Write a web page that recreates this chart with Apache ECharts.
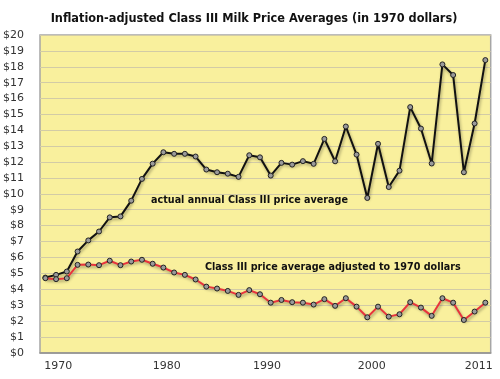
<!DOCTYPE html>
<html>
<head>
<meta charset="utf-8">
<script src="https://cdn.jsdelivr.net/npm/echarts@6/dist/echarts.min.js"></script>
<style>html,body{margin:0;padding:0;background:#fff}#c{width:500px;height:379px}</style>
</head>
<body>
<div id="c"></div>
<script>
var years = ['1970','1971','1972','1973','1974','1975','1976','1977','1978','1979','1980','1981','1982','1983','1984','1985','1986','1987','1988','1989','1990','1991','1992','1993','1994','1995','1996','1997','1998','1999','2000','2001','2002','2003','2004','2005','2006','2007','2008','2009','2010','2011'];
var shownYears = ['1970','1980','1990','2000','2011'];
var actualPrice = [4.73,4.90,5.11,6.37,7.07,7.63,8.52,8.58,9.57,10.94,11.90,12.62,12.52,12.52,12.35,11.53,11.36,11.27,11.07,12.43,12.30,11.15,11.95,11.84,12.06,11.89,13.46,12.05,14.24,12.47,9.74,13.15,10.43,11.46,15.46,14.11,11.91,18.15,17.48,11.36,14.43,18.42];
var adjustedPrice = [4.69,4.63,4.69,5.53,5.55,5.51,5.79,5.51,5.74,5.85,5.60,5.36,5.05,4.90,4.61,4.16,4.04,3.89,3.64,3.94,3.68,3.15,3.32,3.18,3.15,3.03,3.37,2.95,3.43,2.90,2.23,2.90,2.27,2.42,3.18,2.84,2.32,3.43,3.15,2.06,2.59,3.15];

var labelShift = {'1970': 26, '1980': 28, '1990': 14, '2000': 9, '2011': -13};
var rich = {};
shownYears.forEach(function (y) {
  var s = labelShift[y];
  rich['y' + y] = {
    fontFamily: 'DejaVu Sans', fontSize: 11, color: '#333',
    padding: s >= 0 ? [0, 0, 0, s] : [0, -s, 0, 0]
  };
});

var chart = echarts.init(document.getElementById('c'), null, {renderer: 'canvas'});
var shadow = {shadowColor: 'rgba(0,0,0,0.35)', shadowBlur: 3, shadowOffsetX: 1, shadowOffsetY: 2};
chart.setOption({
  animation: false,
  backgroundColor: '#fff',
  title: {
    text: 'Inflation-adjusted Class III Milk Price Averages (in 1970 dollars)',
    left: 249, textAlign: 'center', top: 7,
    textStyle: {fontFamily: 'DejaVu Sans Condensed, DejaVu Sans', fontWeight: 'bold', fontSize: 12.6, color: '#111'}
  },
  grid: {
    left: 39.5, right: 9.3, top: 35, bottom: 26.3,
    show: true, backgroundColor: '#F9F09D', borderColor: '#A6A6A6', borderWidth: 1.5
  },
  xAxis: {
    type: 'category', data: years, boundaryGap: true,
    axisLine: {show: true, lineStyle: {color: '#8C8C8C', width: 1.5}},
    axisTick: {show: false},
    axisLabel: {
      margin: 8,
      interval: function (i, v) { return shownYears.indexOf(v) >= 0; },
      formatter: function (v) { return '{y' + v + '|' + v + '}'; },
      rich: rich
    },
    splitLine: {show: false}
  },
  yAxis: {
    type: 'value', min: 0, max: 20, interval: 1,
    axisLine: {show: false}, axisTick: {show: false},
    axisLabel: {fontFamily: 'DejaVu Sans', fontSize: 11, color: '#333', margin: 16, formatter: function (v) { return '$' + v; }},
    splitLine: {show: true, lineStyle: {color: '#D2CBA6', width: 1.2}}
  },
  series: [
    {
      type: 'line', data: actualPrice, symbol: 'circle', symbolSize: 5,
      lineStyle: Object.assign({color: '#111', width: 2}, shadow),
      itemStyle: {color: '#9A9A9A', borderColor: '#222', borderWidth: 1},
      z: 3
    },
    {
      type: 'line', data: adjustedPrice, symbol: 'circle', symbolSize: 5,
      lineStyle: Object.assign({color: '#E8343C', width: 2}, shadow),
      itemStyle: {color: '#9A9A9A', borderColor: '#222', borderWidth: 1},
      z: 4
    }
  ],
  graphic: [
    {type: 'text', left: 151, top: 195, z: 10,
     style: {text: 'actual annual Class III price average', fill: '#111',
             font: 'bold 10.7px "DejaVu Sans Condensed", "DejaVu Sans"'}},
    {type: 'text', left: 205, top: 262, z: 10,
     style: {text: 'Class III price average adjusted to 1970 dollars', fill: '#111',
             font: 'bold 10.7px "DejaVu Sans Condensed", "DejaVu Sans"'}}
  ]
});
</script>
</body>
</html>
